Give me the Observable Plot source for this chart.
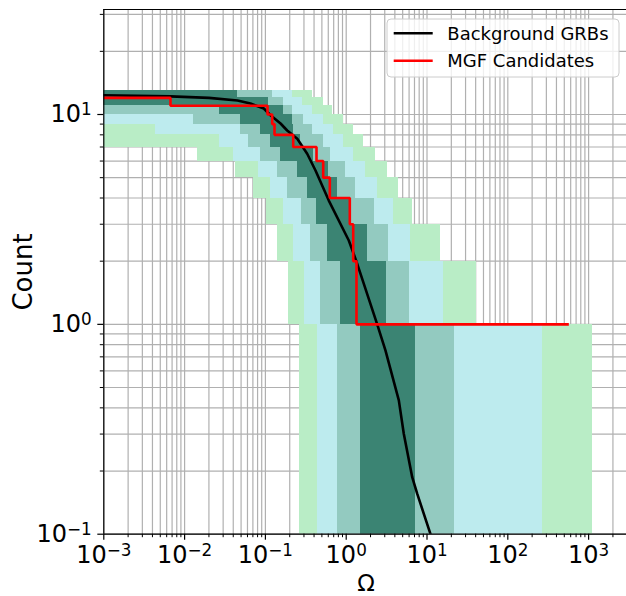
<!DOCTYPE html>
<html><head><meta charset="utf-8">
<script src="https://cdn.jsdelivr.net/npm/d3@7"></script>
<script src="https://cdn.jsdelivr.net/npm/@observablehq/plot@0.6"></script>
<style>body{margin:0;background:#fff} svg{display:block}</style>
</head><body><div id="chart"></div>
<script>
// ---------- data ----------
const OFF = 0.0005; // edge lies left of the visible axis
const levels  = [13, 12, 11, 10, 9, 8, 7, 6, 5, 4, 3, 2, 1];
const greenLo = [OFF, OFF, OFF, OFF, OFF, OFF, 0.0145, 0.0427, 0.0713, 0.103, 0.141, 0.193, 0.264];
const cyanLo  = [OFF, OFF, OFF, OFF, 0.0044, 0.0271, 0.0403, 0.0822, 0.1156, 0.1675, 0.223, 0.305, 0.441];
const midLo   = [OFF, OFF, OFF, 0.0129, 0.0492, 0.0618, 0.0869, 0.141, 0.188, 0.28, 0.3625, 0.481, 0.78];
const darkLo  = [OFF, OFF, 0.0271, 0.0492, 0.0869, 0.1156, 0.154, 0.2496, 0.332, 0.429, 0.587, 0.85, 1.503];
const darkHi  = [0.0451, 0.109, 0.1675, 0.2165, 0.223, 0.2718, 0.394, 0.604, 0.78, 1.163, 1.835, 3.154, 7.21];
const midHi   = [0.1225, 0.1675, 0.2165, 0.2963, 0.383, 0.524, 0.639, 0.98, 1.303, 2.24, 3.338, 6.07, 21.9];
const cyanHi  = [0.2165, 0.2878, 0.383, 0.524, 0.6965, 0.926, 1.231, 1.734, 2.44, 3.85, 6.25, 16.0, 268.8];
const greenHi = [0.383, 0.524, 0.677, 0.926, 1.231, 1.637, 2.305, 3.245, 4.44, 6.615, 14.7, 41.0, 1118];

const bgOmega = [0.001, 0.0067, 0.02, 0.0451, 0.0654, 0.0955, 0.1157, 0.154, 0.186, 0.248, 0.329, 0.417, 0.609, 1.077, 1.341, 2.42, 3.06, 4.48, 5.16, 6.56, 7.56, 11.05];
const bgCount = [12.36, 12.2, 12.0, 11.66, 11.28, 10.68, 9.92, 9.06, 8.39, 7.66, 6.50, 5.41, 3.89, 2.51, 1.99, 1.0, 0.751, 0.434, 0.301, 0.187, 0.156, 0.1];

const mgfOmega = [0.001, 0.00669, 0.1062, 0.1214, 0.1296, 0.2208, 0.429, 0.519, 0.627, 1.108, 1.221, 1.341, 569];
const mgfCount = [12, 11, 10, 9, 8, 7, 6, 5, 4, 3, 2, 1, 1];

const xTicks = [1e-3, 1e-2, 1e-1, 1, 10, 100, 1000];
const xTickLabels = ["10^−3", "10^−2", "10^−1", "10^0", "10^1", "10^2", "10^3"];
const yTicks = [0.1, 1, 10];
const yTickLabels = ["10^−1", "10^0", "10^1"];
const xDomain = [1e-3, 2944];
const yDomain = [0.1, 31.65];

const colors = {green: "#b9edc6", cyan: "#bdebee", mid: "#93cac0", dark: "#3b8473"};
const gridColor = "#b0b0b0";
const FONT = "DejaVu Sans";

// ---------- derived tables ----------
const mult = [2, 3, 4, 5, 6, 7, 8, 9];
const xMinor = xTicks.flatMap(t => mult.map(m => m * t)).filter(v => v < xDomain[1]);
const yMinor = yTicks.flatMap(t => mult.map(m => m * t)).filter(v => v < yDomain[1]);

const segDefs = [
  ["green", greenLo, cyanLo], ["cyan", cyanLo, midLo], ["mid", midLo, darkLo],
  ["dark", darkLo, darkHi], ["mid", darkHi, midHi], ["cyan", midHi, cyanHi], ["green", cyanHi, greenHi]
];
const bands = [];
levels.forEach((k, i) => segDefs.forEach(([c, lo, hi]) => {
  if (hi[i] > lo[i]) bands.push({c, x1: lo[i], x2: hi[i], y1: k === 1 ? 0.05 : k - 1, y2: k});
}));
const bg = bgOmega.map((x, i) => ({x, y: bgCount[i]}));
const mgf = mgfOmega.map((x, i) => ({x, y: mgfCount[i]}));
const xLab = d => xTickLabels[xTicks.indexOf(d)];
const yLab = d => yTickLabels[yTicks.indexOf(d)];

const svg = Plot.plot({
  width: 626, height: 596,
  marginLeft: 103.3, marginRight: 0, marginTop: 9, marginBottom: 62.3,
  x: {type: "log", domain: xDomain},
  y: {type: "log", domain: yDomain},
  style: {fontFamily: FONT, background: "white", color: "black"},
  marks: [
    Plot.ruleX(xMinor.concat(xTicks), {stroke: gridColor, strokeWidth: 1.2}),
    Plot.ruleY(yMinor.concat(yTicks), {stroke: gridColor, strokeWidth: 1.2}),
    ...["green", "cyan", "mid", "dark"].map(c =>
      Plot.rect(bands.filter(b => b.c === c), {x1: "x1", x2: "x2", y1: "y1", y2: "y2", fill: colors[c], clip: true, shapeRendering: "crispEdges"})),
    Plot.line(bg, {x: "x", y: "y", stroke: "black", strokeWidth: 2.6, clip: true}),
    Plot.line(mgf, {x: "x", y: "y", curve: "step-after", stroke: "#ff0000", strokeWidth: 2.6, strokeLinejoin: "miter", strokeLinecap: "butt"}),
    Plot.ruleX([xDomain[0]], {stroke: "black", strokeWidth: 1.2}),
    Plot.ruleY([yDomain[0], yDomain[1]], {stroke: "black", strokeWidth: 1.2}),
    Plot.axisX(xMinor, {anchor: "bottom", tickSize: 3.5, strokeWidth: 1, tickFormat: () => "", label: null}),
    Plot.axisX(xTicks, {anchor: "bottom", tickSize: 6, tickPadding: 6, strokeWidth: 1.2, tickFormat: xLab, fontSize: 24, label: null}),
    Plot.axisY(yMinor, {anchor: "left", tickSize: 3.5, strokeWidth: 1, tickFormat: () => "", label: null}),
    Plot.axisY(yTicks, {anchor: "left", tickSize: 6, tickPadding: 6, strokeWidth: 1.2, tickFormat: yLab, fontSize: 24, label: null})
  ]
});

const s = d3.select(svg);
// superscripts for tick labels
s.selectAll("text").each(function() {
  const t = this.textContent;
  if (t.startsWith("10^")) {
    const sel = d3.select(this);
    sel.text("");
    sel.append("tspan").text("10");
    sel.append("tspan").attr("dy", "-0.42em").attr("font-size", "0.7em").text(t.slice(3));
  }
});
// axis labels
s.append("text").attr("x", 366).attr("y", 591).attr("text-anchor", "middle")
  .attr("font-family", FONT).attr("font-size", 23).attr("fill", "black").text("Ω");
s.append("text").attr("transform", "translate(31.5,272) rotate(-90)").attr("text-anchor", "middle")
  .attr("font-family", FONT).attr("font-size", 26).attr("fill", "black").text("Count");
// legend
const lg = s.append("g").attr("text-anchor", "start");
lg.append("rect").attr("x", 387).attr("y", 19).attr("width", 232).attr("height", 58).attr("rx", 4)
  .attr("fill", "white").attr("fill-opacity", 0.8).attr("stroke", "#cccccc").attr("stroke-width", 1);
[["Background GRBs", "black", 33.3, 40], ["MGF Candidates", "#ff0000", 60.7, 66.7]].forEach(([label, col, ly, ty]) => {
  lg.append("line").attr("x1", 393.7).attr("x2", 432.7).attr("y1", ly).attr("y2", ly)
    .attr("stroke", col).attr("stroke-width", 2.6);
  lg.append("text").attr("x", 447.3).attr("y", ty).attr("text-anchor", "start").attr("font-family", FONT).attr("font-size", 18)
    .attr("fill", "black").text(label);
});
document.getElementById("chart").appendChild(svg);
</script>
</body></html>
